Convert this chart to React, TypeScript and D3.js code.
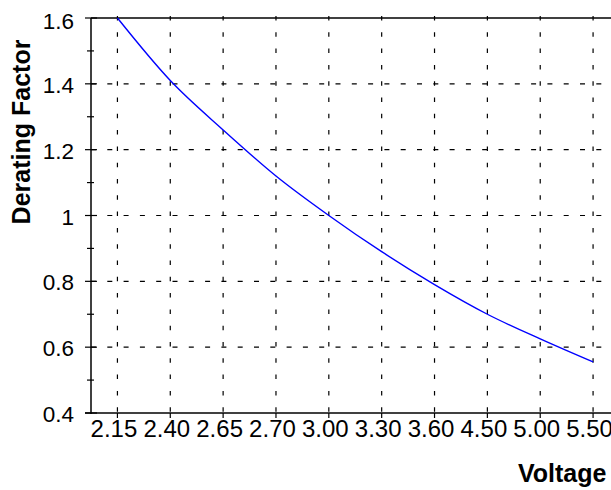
import React from "react";
import * as d3 from "d3";

const categories = ["2.15", "2.40", "2.65", "2.70", "3.00", "3.30", "3.60", "4.50", "5.00", "5.50"];
const factors = [1.6, 1.41, 1.26, 1.12, 1.0, 0.89, 0.79, 0.70, 0.625, 0.555];
const yTicks = [0.4, 0.6, 0.8, 1.0, 1.2, 1.4, 1.6];
const yMinorTicks = [0.5, 0.7, 0.9, 1.1, 1.3, 1.5];
const yTitle = "Derating Factor";
const xTitle = "Voltage";

const W = 611;
const H = 490;
const left = 91;
const top = 18;
const bottom = 413;
const right = 619.5;
const font = "'Liberation Sans', Arial, Helvetica, sans-serif";

export default function App() {
  const x = d3.scalePoint<string>().domain(categories).range([left, right]).padding(0.5);
  const y = d3.scaleLinear().domain([0.4, 1.6]).range([bottom, top]);
  const line = d3
    .line<number>()
    .x((_, i) => x(categories[i]) as number)
    .y((d) => y(d))
    .curve(d3.curveMonotoneX);

  const fmt = (v: number) => (Math.abs(v - 1) < 1e-9 ? "1" : d3.format(".1f")(v));

  return (
    <div style={{ position: "absolute", left: 0, top: 0 }}>
      <svg width={W} height={H} style={{ display: "block", background: "#fff" }}>
        <rect x={0} y={0} width={W} height={H} fill="#fff" />
        {/* horizontal grid */}
        {yTicks
          .filter((t) => t > 0.4 && t < 1.6)
          .map((t) => (
            <line
              key={"hg" + t}
              x1={left}
              x2={W}
              y1={y(t)}
              y2={y(t)}
              stroke="#000"
              strokeWidth={1.2}
              strokeDasharray="5,11.3"
            />
          ))}
        {/* vertical grid */}
        {categories.map((c) => (
          <line
            key={"vg" + c}
            x1={x(c)}
            x2={x(c)}
            y1={top - 2}
            y2={bottom}
            stroke="#000"
            strokeWidth={1.2}
            strokeDasharray="4.5,11.8"
          />
        ))}
        {/* axes */}
        <line x1={left} x2={left} y1={top} y2={bottom + 1} stroke="#000" strokeWidth={1.5} />
        <line x1={left - 6} x2={W} y1={bottom} y2={bottom} stroke="#000" strokeWidth={1.5} />
        <line x1={left} x2={W} y1={top} y2={top} stroke="#000" strokeWidth={1.5} />
        {/* y ticks */}
        {yTicks.map((t) => (
          <line key={"yt" + t} x1={left - 6} x2={left + 6} y1={y(t)} y2={y(t)} stroke="#000" strokeWidth={1.2} />
        ))}
        {yMinorTicks.map((t) => (
          <line key={"ym" + t} x1={left - 4} x2={left + 3} y1={y(t)} y2={y(t)} stroke="#000" strokeWidth={1.2} />
        ))}
        {/* x ticks */}
        {categories.map((c) => (
          <line key={"xt" + c} x1={x(c)} x2={x(c)} y1={bottom} y2={bottom + 5} stroke="#000" strokeWidth={1.2} />
        ))}
        {/* y labels */}
        {yTicks.map((t) => (
          <text
            key={"yl" + t}
            x={74}
            y={y(t) + (t === 1.6 ? 3 : 1)}
            dy="0.36em"
            textAnchor="end"
            fontFamily={font}
            fontSize={22.5}
            fill="#000"
          >
            {fmt(t)}
          </text>
        ))}
        {/* x labels */}
        {categories.map((c) => (
          <text
            key={"xl" + c}
            x={(x(c) as number) - 3.5}
            y={437}
            textAnchor="middle"
            fontFamily={font}
            fontSize={24}
            fill="#000"
          >
            {c}
          </text>
        ))}
        {/* series */}
        <path d={line(factors) || ""} fill="none" stroke="#0000ff" strokeWidth={1.4} />
        {/* titles */}
        <text
          transform="translate(30,132) rotate(-90)"
          textAnchor="middle"
          fontFamily={font}
          fontSize={25}
          fontWeight="bold"
          fill="#000"
        >
          {yTitle}
        </text>
        <text x={518} y={482} fontFamily={font} fontSize={25} fontWeight="bold" fill="#000">
          {xTitle}
        </text>
      </svg>
    </div>
  );
}
